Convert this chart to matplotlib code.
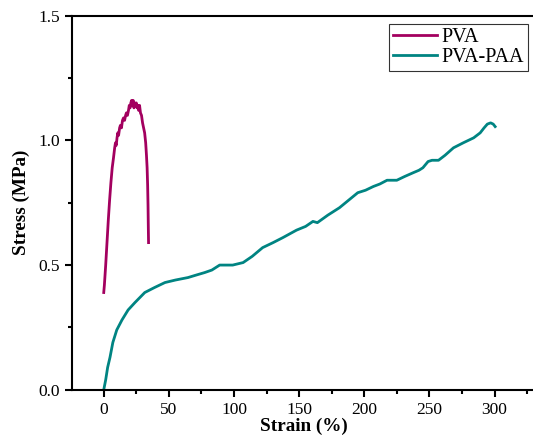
import matplotlib.pyplot as plt
from matplotlib.ticker import MultipleLocator

# PVA
pva_strain = [0.0, 0.5, 1.5, 2.5, 3.5, 4.5, 5.5, 6.5, 7.5, 8.4, 9.0, 9.6, 10.2, 10.8, 11.4,
              12.2, 12.8, 13.6, 14.4, 15.2, 16.0, 16.8, 17.4, 18.2, 19.0, 19.6, 20.2, 20.8,
              21.4, 22.0, 22.6, 23.2, 23.8, 24.4, 25.0, 25.6, 26.2, 26.8, 27.5, 28.2,
              29.0, 29.8, 30.6, 31.4, 32.2, 32.8, 33.3, 33.7, 34.0, 34.2, 34.4]
pva_stress = [0.39, 0.42, 0.50, 0.59, 0.68, 0.76, 0.83, 0.89, 0.93, 0.97, 0.99, 0.98, 1.01,
              1.03, 1.02, 1.05, 1.06, 1.05, 1.08, 1.09, 1.08, 1.10, 1.11, 1.10, 1.12, 1.14,
              1.13, 1.15, 1.16, 1.14, 1.16, 1.13, 1.15, 1.14, 1.15, 1.13, 1.14, 1.12, 1.14,
              1.11, 1.10, 1.07, 1.05, 1.03, 0.99, 0.94, 0.89, 0.82, 0.74, 0.66, 0.59]

# PVA-PAA
paa_strain = [0.0, 1.5, 3.0, 4.8, 7.0, 10.0, 14.0, 18.7, 24.0, 31.5, 39.0, 47.0, 55.0, 64.7,
              71.0, 77.5, 83.0, 89.0, 94.0, 99.0, 103.0, 107.0, 114.0, 122.0, 130.0, 137.5,
              148.0, 155.0, 160.6, 164.0, 172.0, 181.0, 188.0, 195.0, 201.0, 207.0, 212.0,
              217.5, 225.0, 231.0, 237.5, 242.0, 245.0, 249.0, 252.0, 257.0, 262.0, 268.5,
              276.0, 284.0, 289.0, 292.0, 294.5, 297.0, 299.0, 300.5]
paa_stress = [0.00, 0.04, 0.09, 0.13, 0.19, 0.24, 0.28, 0.32, 0.35, 0.39, 0.41, 0.43, 0.44,
              0.45, 0.46, 0.47, 0.48, 0.50, 0.50, 0.50, 0.505, 0.51, 0.535, 0.57, 0.59, 0.61,
              0.64, 0.655, 0.675, 0.67, 0.70, 0.73, 0.76, 0.79, 0.80, 0.815, 0.825, 0.84,
              0.84, 0.855, 0.87, 0.88, 0.89, 0.915, 0.92, 0.92, 0.94, 0.97, 0.99, 1.01,
              1.03, 1.05, 1.065, 1.07, 1.065, 1.055]

plt.rcParams['font.family'] = ['Liberation Serif', 'DejaVu Serif']

fig = plt.figure(figsize=(5.33, 4.45), dpi=100)
# right spine sits just past the image edge, as in the source
ax = fig.add_axes([0.135, 0.124, 0.871, 0.841])

ax.plot(pva_strain, pva_stress, color='#A3005F', lw=2.0, label='PVA')
ax.plot(paa_strain, paa_stress, color='#008482', lw=2.0, label='PVA-PAA')

ax.set_xlim(-24.4, 332)
ax.set_ylim(0, 1.5)
ax.xaxis.set_minor_locator(MultipleLocator(25))
ax.yaxis.set_major_locator(MultipleLocator(0.5))
ax.yaxis.set_minor_locator(MultipleLocator(0.25))
ax.yaxis.set_major_formatter(plt.FormatStrFormatter('%.1f'))
ax.set_xticks(range(0, 301, 50))
ax.tick_params(which='major', direction='out', length=5, width=1.5, labelsize=12.5)
ax.tick_params(which='minor', direction='out', length=3, width=1.5)
for s in ax.spines.values():
    s.set_linewidth(1.5)

ax.set_xlabel('Strain (%)', fontweight='bold', fontsize=13.8, labelpad=0)
ax.set_ylabel('Stress (MPa)', fontweight='bold', fontsize=13.8, labelpad=6)

leg = ax.legend(loc='upper right', fontsize=14.5, frameon=True, fancybox=False,
                edgecolor='black', handlelength=2.15, handletextpad=0.25,
                borderaxespad=0.4, labelspacing=0.05, borderpad=0.2)
leg.get_frame().set_linewidth(0.8)

fig.savefig('out.png', dpi=100)
